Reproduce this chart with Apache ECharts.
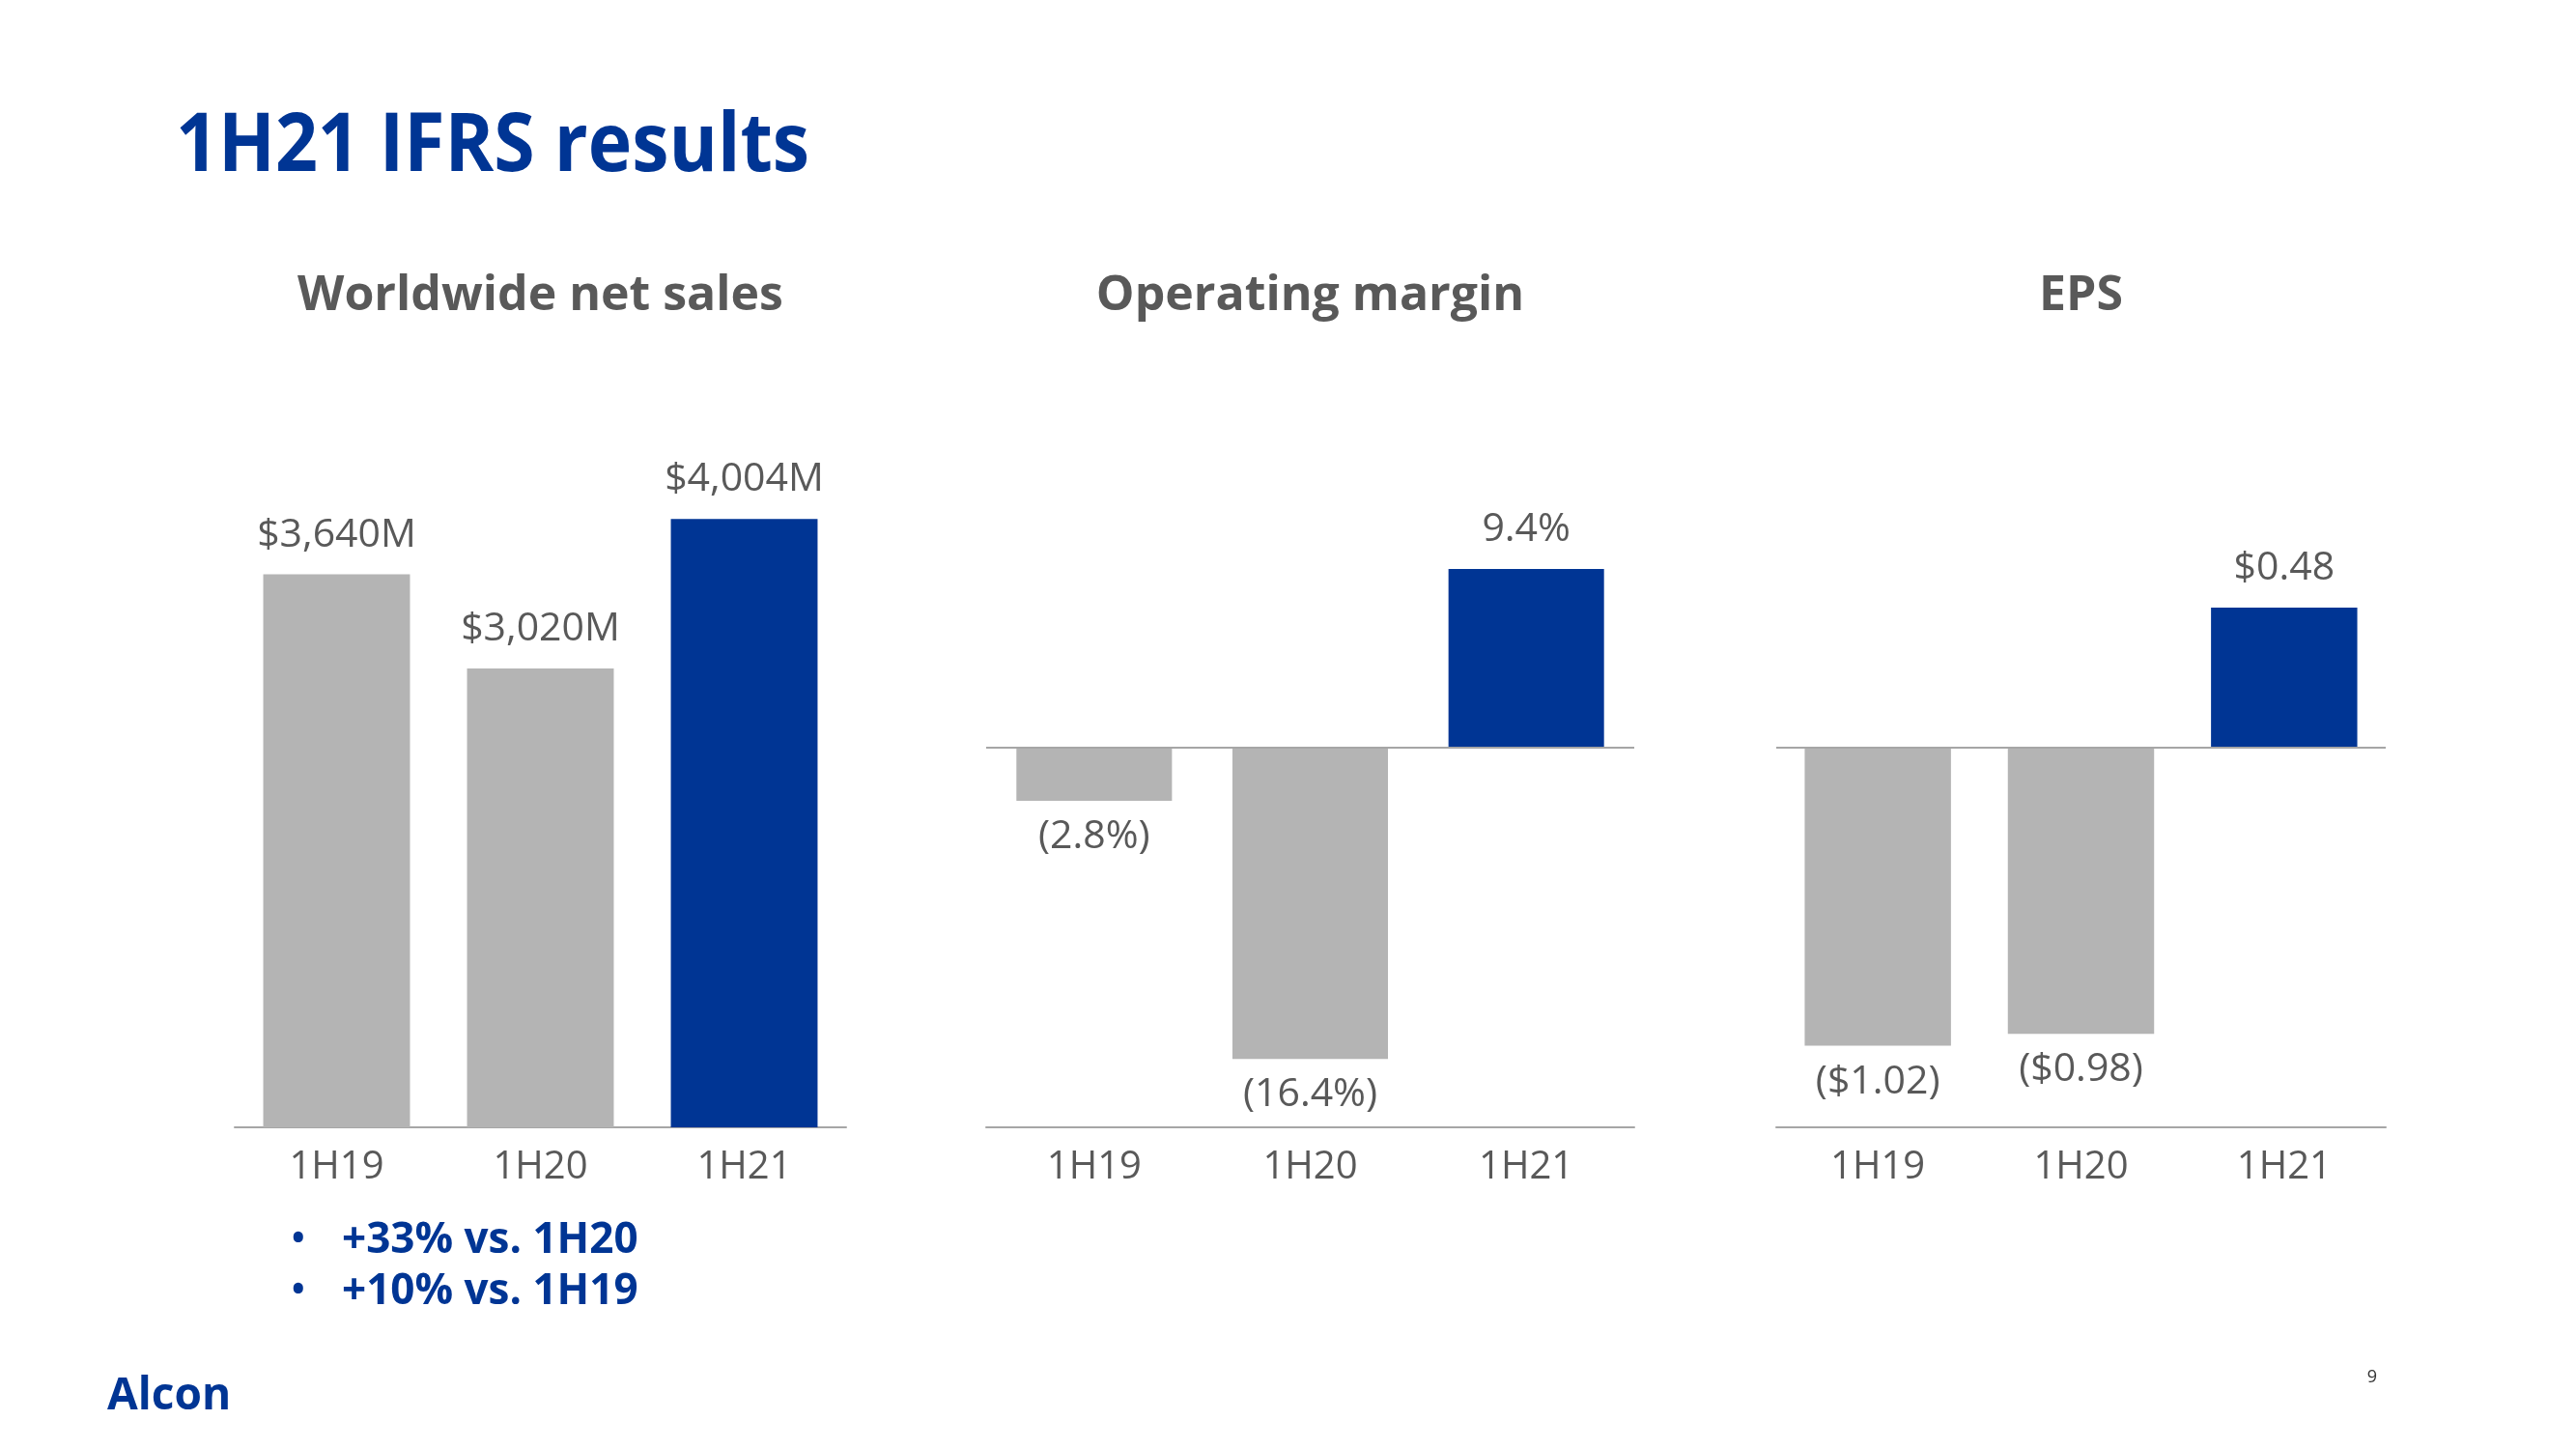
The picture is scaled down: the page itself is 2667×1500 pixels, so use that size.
<!DOCTYPE html>
<html>
<head>
<meta charset="utf-8">
<script src="https://cdn.jsdelivr.net/npm/echarts@6/dist/echarts.min.js"></script>
<style>
html,body{margin:0;padding:0;background:#fff;}
#chart{width:2667px;height:1500px;}
</style>
</head>
<body>
<div id="chart"></div>
<script>
// ---- data ----
const categories = ['1H19', '1H20', '1H21'];
const salesValues = [3640, 3020, 4004];      // $M
const marginValues = [-2.8, -16.4, 9.4];     // %
const epsValues = [-1.02, -0.98, 0.48];      // $
const panelTitles = ['Worldwide net sales', 'Operating margin', 'EPS'];
const pageTitle = '1H21 IFRS results';
const bulletLines = ['+33% vs. 1H20', '+10% vs. 1H19'];
const logoText = 'Alcon';
const pageNumber = '9';

// ---- styles ----
const BLUE = '#003594';
const GREY_BAR = '#B4B4B4';
const TEXT_GREY = '#595959';
const AXIS_GREY = '#A6A6A6';
const FONT = '"Open Sans", "Noto Sans", sans-serif';

function fmtSales(v) { return '$' + v.toLocaleString('en-US') + 'M'; }
function fmtMargin(v) { return v < 0 ? '(' + Math.abs(v).toFixed(1) + '%)' : v.toFixed(1) + '%'; }
function fmtEps(v) { return v < 0 ? '($' + Math.abs(v).toFixed(2) + ')' : '$' + v.toFixed(2); }

function buildData(values, fmt) {
  return values.map((v, i) => ({
    value: v,
    itemStyle: { color: i === values.length - 1 ? BLUE : GREY_BAR },
    label: {
      show: true,
      position: v < 0 ? 'bottom' : 'top',
      distance: v < 0 ? 17 : 20,
      formatter: () => fmt(v),
      fontSize: 41,
      fontFamily: FONT,
      color: TEXT_GREY
    }
  }));
}

const grids = [
  { left: 243, width: 633, top: 475, bottom: 333 },
  { left: 1021, width: 671, top: 538, bottom: 333 },
  { left: 1839, width: 631, top: 623, bottom: 333 }
];
const yRanges = [[0, 4400], [-20, 12], [-1.3, 0.5]];

const xAxes = grids.map((g, i) => ({
  type: 'category',
  gridIndex: i,
  data: categories,
  axisLine: { show: true, onZero: false, lineStyle: { color: AXIS_GREY, width: 2 } },
  axisTick: { show: false },
  axisLabel: { fontSize: 40, color: TEXT_GREY, fontFamily: FONT, margin: 22 }
}));
const yAxes = grids.map((g, i) => ({
  type: 'value',
  gridIndex: i,
  min: yRanges[i][0],
  max: yRanges[i][1],
  show: false,
  splitLine: { show: false }
}));

const zeroLine = {
  silent: true,
  symbol: ['none', 'none'],
  label: { show: false },
  lineStyle: { color: AXIS_GREY, width: 2, type: 'solid' },
  data: [{ yAxis: 0 }]
};

const series = [
  { type: 'bar', xAxisIndex: 0, yAxisIndex: 0, barCategoryGap: '28%', data: buildData(salesValues, fmtSales) },
  { type: 'bar', xAxisIndex: 1, yAxisIndex: 1, barCategoryGap: '28%', data: buildData(marginValues, fmtMargin), markLine: zeroLine },
  { type: 'bar', xAxisIndex: 2, yAxisIndex: 2, barCategoryGap: '28%', data: buildData(epsValues, fmtEps), markLine: zeroLine }
];

const panelCenters = grids.map(g => g.left + g.width / 2);

const graphics = [
  { type: 'text', x: 182, y: 153, scaleX: 0.95, scaleY: 1.05, style: { text: pageTitle, font: 'bold 81px ' + FONT, fill: BLUE, textVerticalAlign: 'middle' } },
  ...panelTitles.map((t, i) => ({
    type: 'text', x: panelCenters[i], y: 307,
    style: { text: t, font: 'bold 50px ' + FONT, fill: TEXT_GREY, textAlign: 'center', textVerticalAlign: 'middle' }
  })),
  ...bulletLines.map((t, i) => ({
    type: 'group', children: [
      { type: 'text', x: 302, y: 1284 + i * 53, style: { text: '•', font: 'bold 36px ' + FONT, fill: BLUE, textVerticalAlign: 'middle' } },
      { type: 'text', x: 354, y: 1284 + i * 53, style: { text: t, font: 'bold 44px ' + FONT, fill: BLUE, textVerticalAlign: 'middle' } }
    ]
  })),
  { type: 'text', x: 111, y: 1446, style: { text: logoText, font: 'bold 46px ' + FONT, fill: BLUE, textVerticalAlign: 'middle' } },
  { type: 'text', x: 2456, y: 1426, style: { text: pageNumber, font: '18px ' + FONT, fill: '#333333', textAlign: 'center', textVerticalAlign: 'middle' } }
];

const chart = echarts.init(document.getElementById('chart'));
chart.setOption({
  backgroundColor: '#ffffff',
  animation: false,
  grid: grids,
  xAxis: xAxes,
  yAxis: yAxes,
  series: series,
  graphic: graphics
});
</script>
</body>
</html>
